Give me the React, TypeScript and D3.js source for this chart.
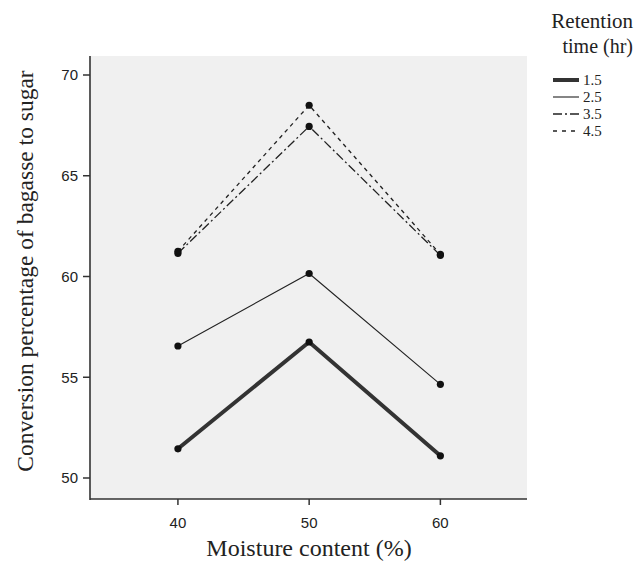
import React from "react";
import * as d3 from "d3";

const moisture = [40, 50, 60];
const seriesNames = ["1.5", "2.5", "3.5", "4.5"];
const s15 = [51.45, 56.75, 51.1];
const s25 = [56.55, 60.15, 54.65];
const s35 = [61.15, 67.45, 61.05];
const s45 = [61.25, 68.5, 61.1];
const yTicks = [50, 55, 60, 65, 70];
const xTicks = [40, 50, 60];

const seriesValues = [s15, s25, s35, s45];
const styles = [
  { w: 4, dash: "", color: "#333" },
  { w: 1.1, dash: "", color: "#222" },
  { w: 1.3, dash: "9,3,2,3", color: "#222" },
  { w: 1.3, dash: "4,4", color: "#222" },
];

export default function App() {
  const W = 636, H = 563;
  const left = 90, right = 527, top = 56, bottom = 499;
  const x = d3.scaleLinear().domain([33.3, 66.6]).range([left, right]);
  const y = d3.scaleLinear().domain([50, 70]).range([478, 75]);
  const line = d3.line<number>().x((_, i) => x(moisture[i])).y((d) => y(d));
  const serif = "'Liberation Serif', 'Times New Roman', serif";
  const sans = "'Liberation Sans', 'DejaVu Sans', sans-serif";
  const legY = [80, 97, 114, 131];
  return (
    <svg width={W} height={H} style={{ position: "absolute", left: 0, top: 0 }}>
      <rect x={0} y={0} width={W} height={H} fill="#fff" />
      <rect x={left} y={top} width={right - left} height={bottom - top} fill="#f0f0f0" />
      {seriesValues.map((vals, k) => (
        <path key={k} d={line(vals) || ""} fill="none" stroke={styles[k].color}
          strokeWidth={styles[k].w} strokeDasharray={styles[k].dash} />
      ))}
      {seriesValues.map((vals, k) =>
        vals.map((v, i) => <circle key={k + "-" + i} cx={x(moisture[i])} cy={y(v)} r={3.6} fill="#111" />)
      )}
      <line x1={left} x2={left} y1={top} y2={bottom + 1} stroke="#333" strokeWidth={1.6} />
      <line x1={left} x2={right} y1={bottom} y2={bottom} stroke="#333" strokeWidth={1.6} />
      {yTicks.map((t) => (
        <g key={t}>
          <line x1={left - 7} x2={left} y1={y(t)} y2={y(t)} stroke="#333" strokeWidth={1.5} />
          <text x={left - 12} y={y(t)} dy="0.35em" textAnchor="end" fontFamily={sans} fontSize={15} fill="#222">{t}</text>
        </g>
      ))}
      {xTicks.map((t) => (
        <g key={t}>
          <line x1={x(t)} x2={x(t)} y1={bottom} y2={bottom + 6} stroke="#333" strokeWidth={1.5} />
          <text x={x(t)} y={528} textAnchor="middle" fontFamily={sans} fontSize={15} fill="#222">{t}</text>
        </g>
      ))}
      <text x={309} y={556} textAnchor="middle" fontFamily={serif} fontSize={24} fill="#222">Moisture content (%)</text>
      <text transform={`translate(33,271) rotate(-90)`} textAnchor="middle" fontFamily={serif} fontSize={23.5} fill="#222">
        Conversion percentage of bagasse to sugar
      </text>
      <text x={633} y={28} textAnchor="end" fontFamily={serif} fontSize={21} fill="#222">Retention</text>
      <text x={633} y={53} textAnchor="end" fontFamily={serif} fontSize={20} fill="#222">time (hr)</text>
      {seriesNames.map((n, k) => (
        <g key={n}>
          <line x1={553} x2={579} y1={legY[k]} y2={legY[k]} stroke={styles[k].color}
            strokeWidth={styles[k].w} strokeDasharray={k === 2 ? "9,3,2,3" : k === 3 ? "4,5" : ""} />
          <text x={583} y={legY[k]} dy="0.35em" fontFamily={serif} fontSize={15} fill="#222">{n}</text>
        </g>
      ))}
    </svg>
  );
}
